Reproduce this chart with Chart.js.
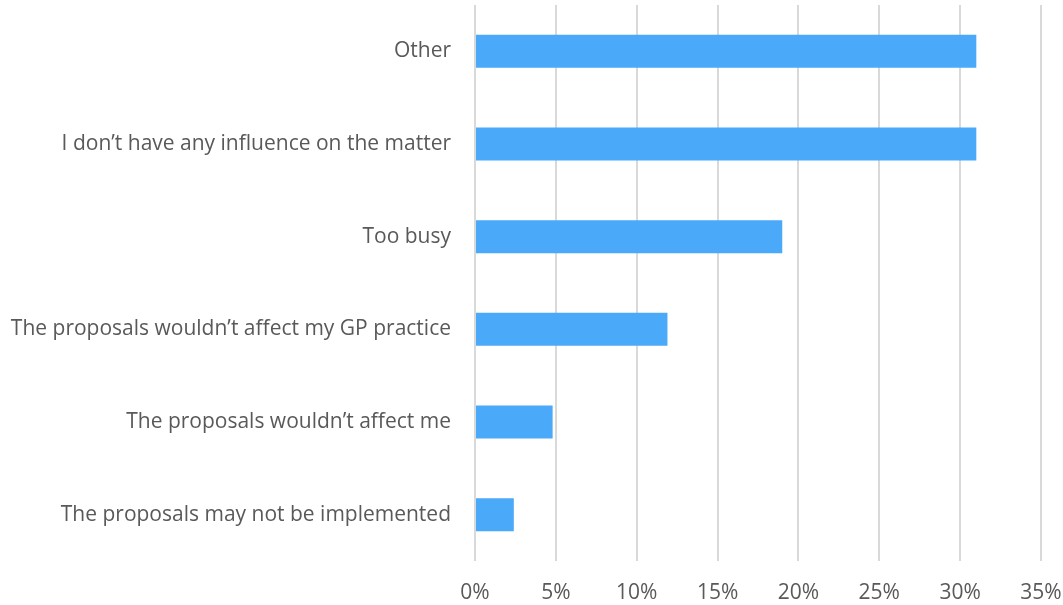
<!DOCTYPE html>
<html>
<head>
<meta charset="utf-8">
<script src="https://cdn.jsdelivr.net/npm/chart.js@4"></script>
<style>
  html, body { margin: 0; padding: 0; background: #fff; }
  #wrap { width: 1063px; height: 605px; position: relative; }
</style>
</head>
<body>
<div id="wrap"><canvas id="chart"></canvas></div>
<script>
const categories = [
  "Other",
  "I don’t have any influence on the matter",
  "Too busy",
  "The proposals wouldn’t affect my GP practice",
  "The proposals wouldn’t affect me",
  "The proposals may not be implemented",
];
const values = [31.0, 31.0, 19.0, 11.9, 4.8, 2.4];
const tickStep = 5;
const axisMax = 35;

const ctx = document.getElementById("chart").getContext("2d");
new Chart(ctx, {
  type: "bar",
  data: {
    labels: categories,
    datasets: [
      {
        data: values,
        backgroundColor: "#4aa9f8",
        borderWidth: 0,
        categoryPercentage: 1,
        barPercentage: 0.356,
      },
    ],
  },
  options: {
    indexAxis: "y",
    responsive: true,
    maintainAspectRatio: false,
    animation: false,
    layout: { padding: { top: 5, right: 0, left: 0, bottom: 0 } },
    plugins: {
      legend: { display: false },
      tooltip: { enabled: false },
    },
    scales: {
      x: {
        min: 0,
        max: axisMax,
        border: { display: false },
        grid: { color: "#d9d9d9", lineWidth: 2, drawTicks: false },
        ticks: {
          stepSize: tickStep,
          padding: 19,
          color: "#595959",
          font: { family: "'Open Sans'", size: 21 },
          callback(value) {
            return value + "%";
          },
        },
        afterFit(scale) {
          scale.height = 44;
          scale.paddingLeft = 0;
          scale.paddingRight = 22;
        },
      },
      y: {
        border: { display: false },
        grid: { display: false, drawTicks: false },
        ticks: {
          padding: 24,
          color: "#595959",
          font: { family: "'Open Sans'", size: 21 },
        },
        afterFit(scale) {
          scale.width = 475;
          scale.paddingTop = 0;
          scale.paddingBottom = 0;
        },
      },
    },
  },
});
</script>
</body>
</html>
